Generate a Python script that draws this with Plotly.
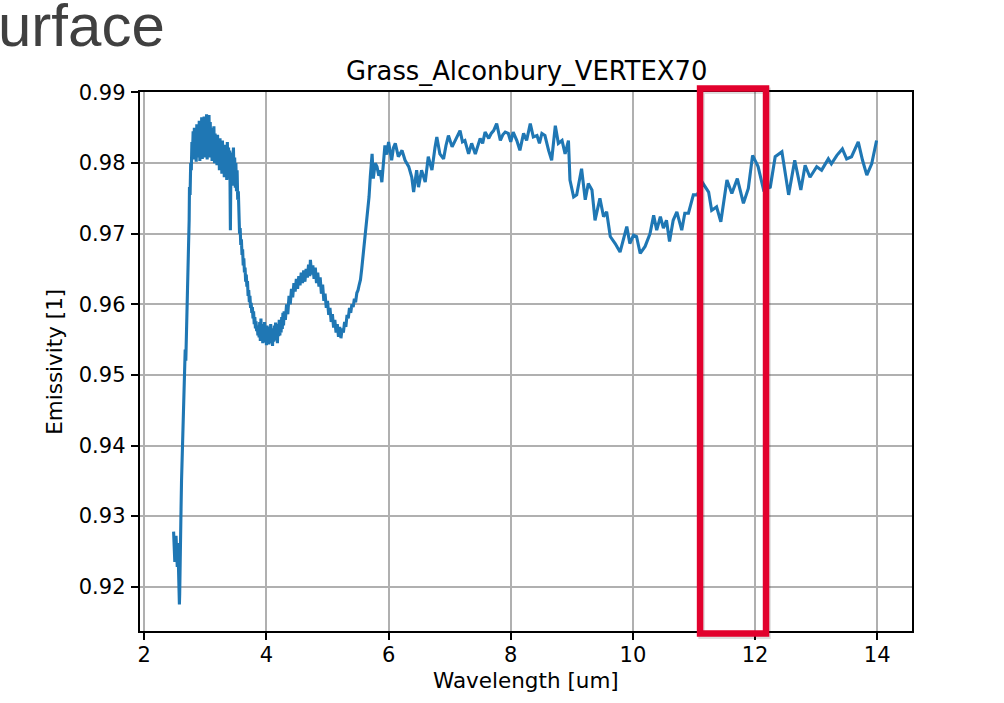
import plotly.graph_objects as go

# Emissivity spectrum of grass (Alconbury, VERTEX70), split by spectral region
wl_onset = [2.48, 2.49, 2.50, 2.51, 2.52, 2.53, 2.54, 2.55, 2.56, 2.57, 2.575, 2.58, 2.585, 2.59,
            2.60, 2.61, 2.62, 2.63, 2.64, 2.65, 2.66, 2.67, 2.68, 2.69, 2.70, 2.71, 2.72, 2.73,
            2.735, 2.74, 2.75, 2.76, 2.77, 2.78]
em_onset = [0.9278, 0.9250, 0.9235, 0.9262, 0.9272, 0.9250, 0.9228, 0.9262, 0.9220, 0.9185, 0.9175,
            0.9190, 0.9240, 0.9290, 0.9300, 0.9350, 0.9385, 0.9410, 0.9440, 0.9475, 0.9500, 0.9536,
            0.9520, 0.9560, 0.9588, 0.9620, 0.9650, 0.9673, 0.9720, 0.9766, 0.9755, 0.9800, 0.9790,
            0.9830]

wl_plateau = [2.79, 2.80, 2.81, 2.82, 2.83, 2.84, 2.85, 2.86, 2.87, 2.88, 2.89, 2.90, 2.91, 2.92,
              2.93, 2.94, 2.95, 2.96, 2.97, 2.98, 2.99, 3.00, 3.01, 3.02, 3.03, 3.04, 3.05, 3.06,
              3.07, 3.08, 3.09, 3.10, 3.11, 3.12, 3.13, 3.14, 3.15, 3.16, 3.17, 3.18, 3.19, 3.20,
              3.21, 3.22, 3.23, 3.24, 3.25, 3.26, 3.27, 3.28, 3.29, 3.30, 3.31, 3.32, 3.33, 3.34,
              3.35, 3.36, 3.37, 3.38, 3.39, 3.40, 3.41, 3.42, 3.43, 3.44, 3.45, 3.46, 3.47, 3.48,
              3.49, 3.50, 3.51, 3.52, 3.53, 3.54]
em_plateau = [0.9815, 0.9845, 0.9805, 0.9850, 0.9810, 0.9838, 0.9802, 0.9855, 0.9808, 0.9848,
              0.9815, 0.9860, 0.9803, 0.9852, 0.9812, 0.9865, 0.9806, 0.9858, 0.9818, 0.9866,
              0.9808, 0.9862, 0.9820, 0.9869, 0.9805, 0.9855, 0.9812, 0.9868, 0.9808, 0.9858,
              0.9815, 0.9850, 0.9803, 0.9845, 0.9810, 0.9852, 0.9800, 0.9842, 0.9808, 0.9836,
              0.9797, 0.9840, 0.9802, 0.9830, 0.9790, 0.9835, 0.9795, 0.9828, 0.9785, 0.9832,
              0.9792, 0.9822, 0.9780, 0.9826, 0.9788, 0.9818, 0.9776, 0.9830, 0.9785, 0.9822,
              0.9778, 0.9818, 0.9705, 0.9810, 0.9770, 0.9815, 0.9768, 0.9822, 0.9772, 0.9808,
              0.9765, 0.9800, 0.9760, 0.9790, 0.9748, 0.9760]

wl_trough = [3.55, 3.56, 3.57, 3.58, 3.59, 3.60, 3.61, 3.62, 3.63, 3.64, 3.65, 3.66, 3.67, 3.68,
             3.69, 3.70, 3.71, 3.72, 3.73, 3.74, 3.75, 3.76, 3.77, 3.78, 3.79, 3.80, 3.81, 3.82,
             3.83, 3.84, 3.85, 3.86, 3.87, 3.88, 3.89, 3.90, 3.91, 3.92, 3.93, 3.94, 3.95, 3.96,
             3.97, 3.98, 3.99, 4.00, 4.01, 4.02, 4.03, 4.04, 4.05, 4.06, 4.07, 4.08, 4.09, 4.10,
             4.11, 4.12, 4.13, 4.14, 4.15, 4.16, 4.17, 4.18, 4.19, 4.20, 4.21, 4.22, 4.23, 4.24,
             4.25, 4.26, 4.27, 4.28]
em_trough = [0.9722, 0.9700, 0.9708, 0.9684, 0.9692, 0.9670, 0.9678, 0.9655, 0.9665, 0.9645,
             0.9652, 0.9632, 0.9642, 0.9625, 0.9633, 0.9612, 0.9620, 0.9603, 0.9612, 0.9595,
             0.9602, 0.9588, 0.9596, 0.9580, 0.9590, 0.9572, 0.9582, 0.9566, 0.9576, 0.9562,
             0.9570, 0.9556, 0.9566, 0.9553, 0.9575, 0.9548, 0.9580, 0.9552, 0.9572, 0.9545,
             0.9568, 0.9550, 0.9575, 0.9546, 0.9566, 0.9542, 0.9570, 0.9548, 0.9565, 0.9543,
             0.9568, 0.9550, 0.9572, 0.9545, 0.9563, 0.9541, 0.9566, 0.9547, 0.9570, 0.9552,
             0.9574, 0.9549, 0.9569, 0.9545, 0.9572, 0.9555, 0.9578, 0.9556, 0.9575, 0.9560,
             0.9582, 0.9565, 0.9588, 0.9570]

wl_hump = [4.29, 4.31, 4.33, 4.35, 4.37, 4.39, 4.41, 4.43, 4.45, 4.47, 4.49, 4.51, 4.53, 4.55,
           4.57, 4.59, 4.61, 4.63, 4.65, 4.67, 4.69, 4.71, 4.72, 4.74, 4.76, 4.78, 4.80, 4.82,
           4.84, 4.86, 4.88, 4.90, 4.92, 4.94, 4.96, 4.98, 5.00, 5.02, 5.04, 5.06, 5.08, 5.10,
           5.12, 5.14, 5.16, 5.18, 5.20, 5.22, 5.24, 5.26, 5.28, 5.30, 5.32, 5.34, 5.36, 5.38,
           5.40, 5.42, 5.44, 5.46, 5.48, 5.50, 5.52, 5.54, 5.56, 5.58, 5.60, 5.62, 5.64, 5.66,
           5.68, 5.70, 5.72]
em_hump = [0.9590, 0.9578, 0.9600, 0.9586, 0.9612, 0.9600, 0.9622, 0.9610, 0.9630, 0.9618,
           0.9636, 0.9622, 0.9640, 0.9627, 0.9645, 0.9630, 0.9648, 0.9632, 0.9650, 0.9638,
           0.9656, 0.9640, 0.9663, 0.9642, 0.9655, 0.9636, 0.9652, 0.9630, 0.9645, 0.9625,
           0.9638, 0.9615, 0.9628, 0.9605, 0.9615, 0.9595, 0.9605, 0.9585, 0.9595, 0.9575,
           0.9586, 0.9567, 0.9578, 0.9560, 0.9572, 0.9554, 0.9568, 0.9552, 0.9566, 0.9560,
           0.9575, 0.9568, 0.9585, 0.9580, 0.9595, 0.9588, 0.9600, 0.9596, 0.9608, 0.9603,
           0.9616, 0.9620, 0.9628, 0.9635, 0.9650, 0.9668, 0.9685, 0.9700, 0.9715, 0.9730,
           0.9752, 0.9780, 0.9805]

wl_mid = [5.73, 5.75, 5.78, 5.81, 5.84, 5.86, 5.89, 5.94, 5.97, 6.00, 6.05, 6.08, 6.11, 6.16,
          6.22, 6.27, 6.33, 6.38, 6.41, 6.46, 6.49, 6.54, 6.60, 6.65, 6.71, 6.76, 6.79, 6.84,
          6.90, 6.94, 6.98, 7.04, 7.08, 7.12, 7.17, 7.21, 7.25, 7.31, 7.36, 7.42, 7.46, 7.50,
          7.54, 7.58, 7.64, 7.68, 7.72, 7.77, 7.83, 7.87, 7.91, 7.96, 8.00, 8.04, 8.10, 8.15,
          8.21, 8.26, 8.32, 8.37, 8.43, 8.47, 8.51, 8.56, 8.62, 8.67, 8.73, 8.78, 8.84, 8.89,
          8.945, 8.97]
em_mid = [0.9813, 0.9778, 0.9800, 0.9795, 0.9782, 0.9790, 0.9773, 0.9825, 0.9812, 0.9830,
          0.9804, 0.9822, 0.9828, 0.9809, 0.9818, 0.9804, 0.9795, 0.9780, 0.9759, 0.9790,
          0.9766, 0.9790, 0.9773, 0.9809, 0.9790, 0.9822, 0.9837, 0.9813, 0.9806, 0.9825,
          0.9839, 0.9823, 0.9830, 0.9835, 0.9846, 0.9830, 0.9832, 0.9813, 0.9828, 0.9813,
          0.9826, 0.9835, 0.9828, 0.9844, 0.9835, 0.9842, 0.9846, 0.9856, 0.9832, 0.9840,
          0.9844, 0.9842, 0.9830, 0.9844, 0.9832, 0.9818, 0.9842, 0.9832, 0.9856, 0.9837,
          0.9839, 0.9828, 0.9842, 0.9839, 0.9818, 0.9804, 0.9853, 0.9828, 0.9832, 0.9813,
          0.9832, 0.9776]

wl_long = [9.03, 9.08, 9.16, 9.22, 9.27, 9.33, 9.38, 9.46, 9.52, 9.57, 9.63, 9.71, 9.79, 9.84,
           9.90, 9.95, 10.01, 10.06, 10.12, 10.20, 10.28, 10.34, 10.39, 10.45, 10.50, 10.55,
           10.60, 10.66, 10.72, 10.80, 10.85, 10.91, 10.99, 11.05, 11.15, 11.24, 11.29, 11.37,
           11.44, 11.54, 11.62, 11.71, 11.81, 11.89, 11.96, 12.05, 12.14, 12.25, 12.33, 12.44,
           12.55, 12.65, 12.75, 12.82, 12.90, 13.01, 13.09, 13.20, 13.25, 13.34, 13.43, 13.50,
           13.58, 13.69, 13.76, 13.83, 13.91, 13.99]
em_long = [0.9752, 0.9755, 0.9792, 0.9748, 0.9771, 0.9762, 0.9719, 0.9750, 0.9724, 0.9731,
           0.9696, 0.9686, 0.9674, 0.9691, 0.9710, 0.9686, 0.9698, 0.9696, 0.9672, 0.9682,
           0.9700, 0.9726, 0.9705, 0.9724, 0.9708, 0.9719, 0.9689, 0.9719, 0.9731, 0.9705,
           0.9729, 0.9729, 0.9755, 0.9755, 0.9771, 0.9759, 0.9733, 0.9738, 0.9717, 0.9776,
           0.9757, 0.9778, 0.9743, 0.9764, 0.9811, 0.9795, 0.9762, 0.9766, 0.9809, 0.9816,
           0.9755, 0.9804, 0.9762, 0.9797, 0.9780, 0.9795, 0.9790, 0.9806, 0.9799, 0.9811,
           0.9820, 0.9806, 0.9809, 0.9830, 0.9804, 0.9783, 0.9799, 0.9832]

wavelength = wl_onset + wl_plateau + wl_trough + wl_hump + wl_mid + wl_long
emissivity = em_onset + em_plateau + em_trough + em_hump + em_mid + em_long

x_ticks = [2, 4, 6, 8, 10, 12, 14]
y_ticks = [0.92, 0.93, 0.94, 0.95, 0.96, 0.97, 0.98, 0.99]
highlight_band = [11.10, 12.18]  # wavelength window outlined in red

chart_title = "Grass_Alconbury_VERTEX70"
x_label = "Wavelength [um]"
y_label = "Emissivity [1]"
slide_heading = "urface"

FONT = "DejaVu Sans"

fig = go.Figure()
fig.add_trace(go.Scatter(
    x=wavelength, y=emissivity, mode="lines",
    line=dict(color="#1f77b4", width=3.1),
    hoverinfo="skip", showlegend=False,
))

axis_common = dict(
    showline=True, linecolor="black", linewidth=1.6, mirror=True,
    ticks="outside", ticklen=7.5, tickwidth=1.6, tickcolor="black",
    showgrid=True, gridcolor="#b0b0b0", gridwidth=1.6,
    zeroline=False,
    tickfont=dict(family=FONT, size=21, color="black"),
)

fig.update_xaxes(range=[1.93, 14.57], tickvals=x_ticks, ticktext=[str(v) for v in x_ticks],
                 ticklabelstandoff=-4, **axis_common)
fig.update_yaxes(range=[0.91373, 0.99007], tickvals=y_ticks,
                 ticktext=[f"{v:.2f}" for v in y_ticks], ticklabelstandoff=1, **axis_common)

annotations = [
    dict(text=chart_title, xref="paper", yref="paper", x=0.5, y=1.039,
         xanchor="center", yanchor="middle", showarrow=False,
         font=dict(family=FONT, size=25.8, color="black")),
    dict(text=x_label, xref="paper", yref="paper", x=0.5, y=-0.0915,
         xanchor="center", yanchor="middle", showarrow=False,
         font=dict(family=FONT, size=21.5, color="black")),
    dict(text=y_label, xref="paper", yref="paper", x=-0.111, y=0.5, textangle=-90,
         xanchor="center", yanchor="middle", showarrow=False,
         font=dict(family=FONT, size=21.5, color="black")),
    dict(text=slide_heading, xref="paper", yref="paper", x=0.035, y=1.124,
         xanchor="right", yanchor="middle", showarrow=False,
         font=dict(family="Liberation Sans, Arial", size=60, color="#404040")),
]

# red highlight frame around the chosen wavelength window (soft shadow underneath)
frame_top, frame_bottom = 1.0065, -0.0046
fig.add_shape(type="rect", xref="x", yref="paper",
              x0=highlight_band[0] + 0.025, x1=highlight_band[1] + 0.025,
              y0=frame_bottom - 0.004, y1=frame_top - 0.004,
              line=dict(color="rgba(0,0,0,0.13)", width=6.5), layer="above")
fig.add_shape(type="rect", xref="x", yref="paper",
              x0=highlight_band[0], x1=highlight_band[1], y0=frame_bottom, y1=frame_top,
              line=dict(color="#e2012d", width=6.5), layer="above")

fig.update_layout(
    width=1004, height=703,
    margin=dict(l=140, r=92, t=92, b=72),
    paper_bgcolor="white", plot_bgcolor="white",
    annotations=annotations,
    showlegend=False,
)

fig.write_html("out.html", config={"displayModeBar": False})
